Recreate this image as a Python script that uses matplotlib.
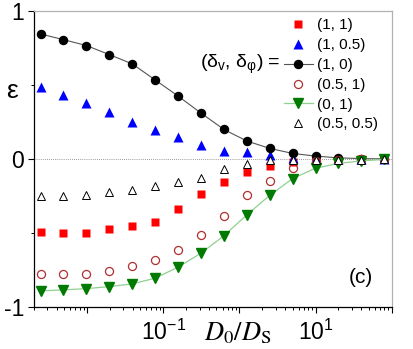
import numpy as np
import matplotlib.pyplot as plt
from matplotlib.ticker import LogLocator, FuncFormatter, NullFormatter, MultipleLocator

plt.rcParams['font.family'] = ['Liberation Sans', 'DejaVu Sans']
plt.rcParams['mathtext.fontset'] = 'custom'
plt.rcParams['mathtext.rm'] = 'Liberation Sans'
plt.rcParams['mathtext.it'] = 'Liberation Sans:italic'

# D0/DS values (factor-of-two steps)
ratio = [0.00244, 0.00488, 0.00977, 0.0195, 0.0391, 0.0781, 0.156, 0.3125,
         0.625, 1.25, 2.5, 5.0, 10.0, 20.0, 40.0, 80.0]

# epsilon for each (delta_v, delta_phi)
eps_1_1 = [-0.494, -0.503, -0.497, -0.476, -0.455, -0.424, -0.336, -0.237,
           -0.154, -0.090, -0.048, -0.022, -0.008, -0.004, -0.002, -0.001]
eps_1_05 = [0.487, 0.433, 0.381, 0.315, 0.252, 0.198, 0.151, 0.092,
            0.051, 0.047, 0.030, 0.010, 0.004, 0.002, 0.003, 0.001]
eps_1_0 = [0.845, 0.807, 0.767, 0.706, 0.643, 0.535, 0.426, 0.311,
           0.200, 0.122, 0.072, 0.038, 0.020, 0.008, 0.003, 0.001]
eps_05_1 = [-0.778, -0.776, -0.776, -0.755, -0.723, -0.683, -0.614, -0.510,
            -0.386, -0.244, -0.147, -0.062, -0.014, -0.005, -0.003, -0.001]
eps_0_1 = [-0.891, -0.884, -0.876, -0.862, -0.844, -0.805, -0.731, -0.636,
           -0.519, -0.377, -0.246, -0.132, -0.062, -0.030, -0.012, -0.003]
eps_05_05 = [-0.252, -0.252, -0.241, -0.226, -0.212, -0.181, -0.156, -0.129,
             -0.070, -0.032, -0.006, -0.005, -0.005, -0.006, -0.004, -0.001]

fig = plt.figure(figsize=(4.14, 3.49), dpi=100)
ax = fig.add_axes([0.082, 0.1203, 0.864, 0.848])

ax.axhline(0, color='#777777', ls=(0, (1, 1.5)), lw=0.6, zorder=1)

ax.plot(ratio, eps_1_1, 's', color='#ff0000', ms=6, mec='none', label='(1, 1)')
ax.plot(ratio, eps_1_05, '^', color='#0000ff', ms=7, mec='none', label='(1, 0.5)')
ax.plot(ratio, eps_1_0, '-', color='#555555', lw=0.8, marker='o', ms=5.8,
        mfc='black', mec='black', label='(1, 0)')
ax.plot(ratio, eps_05_1, 'o', ms=5.8, mfc='none', mec='#b03030', mew=0.9, label='(0.5, 1)')
ax.plot(ratio, eps_0_1, '-', color='#8fd08f', lw=0.9, marker='v', ms=7,
        mfc='#007a00', mec='#007a00', label='(0, 1)')
ax.plot(ratio, eps_05_05, '^', ms=6.3, mfc='white', mec='black', mew=0.7, label='(0.5, 0.5)')

ax.set_xscale('log')
ax.set_xlim(0.002, 100)
ax.set_ylim(-1, 1)

ax.xaxis.set_major_locator(LogLocator(base=10, numticks=20))
ax.xaxis.set_minor_locator(LogLocator(base=10, subs=np.arange(2, 10), numticks=20))
ax.xaxis.set_minor_formatter(NullFormatter())


def xfmt(v, pos):
    e = int(round(np.log10(v)))
    if e in (-1, 1):
        return r'$\mathregular{10^{%d}}$' % e
    return ''


ax.xaxis.set_major_formatter(FuncFormatter(xfmt))
ax.yaxis.set_major_locator(MultipleLocator(1))
ax.yaxis.set_minor_locator(MultipleLocator(0.5))
ax.yaxis.set_major_formatter(FuncFormatter(lambda v, p: '%d' % v))

ax.tick_params(which='major', direction='out', length=4, width=0.8, labelsize=16.5, pad=3)
ax.tick_params(which='minor', direction='out', length=2.5, width=0.7)
ax.tick_params(axis='x', which='major', pad=5)

for s in ['left', 'bottom']:
    ax.spines[s].set_color('black')
    ax.spines[s].set_linewidth(0.9)
for s in ['top', 'right']:
    ax.spines[s].set_color('#b0b0b0')
    ax.spines[s].set_linewidth(0.9)

ax.set_xlabel(r'$D_{\mathrm{0}}/D_{\mathrm{S}}$', fontsize=19, math_fontfamily='stix')
ax.xaxis.set_label_coords(0.568, -0.045)

fig.text(0.015, 0.74, 'ε', fontsize=19, ha='left', va='center')

ax.text(0.914, 0.10, '(c)', transform=ax.transAxes, fontsize=15, ha='center', va='center')

ax.text(0.464, 0.807, r'(δ$_\mathregular{v}$, δ$_\mathregular{φ}$) =', transform=ax.transAxes,
        fontsize=14, ha='left', va='baseline')

ax.legend(loc='upper left', bbox_to_anchor=(0.699, 0.975), frameon=False, fontsize=11,
          handlelength=1.9, handletextpad=0.25, labelspacing=0.38, borderaxespad=0,
          borderpad=0, numpoints=1)

fig.savefig('out.png', dpi=100)
